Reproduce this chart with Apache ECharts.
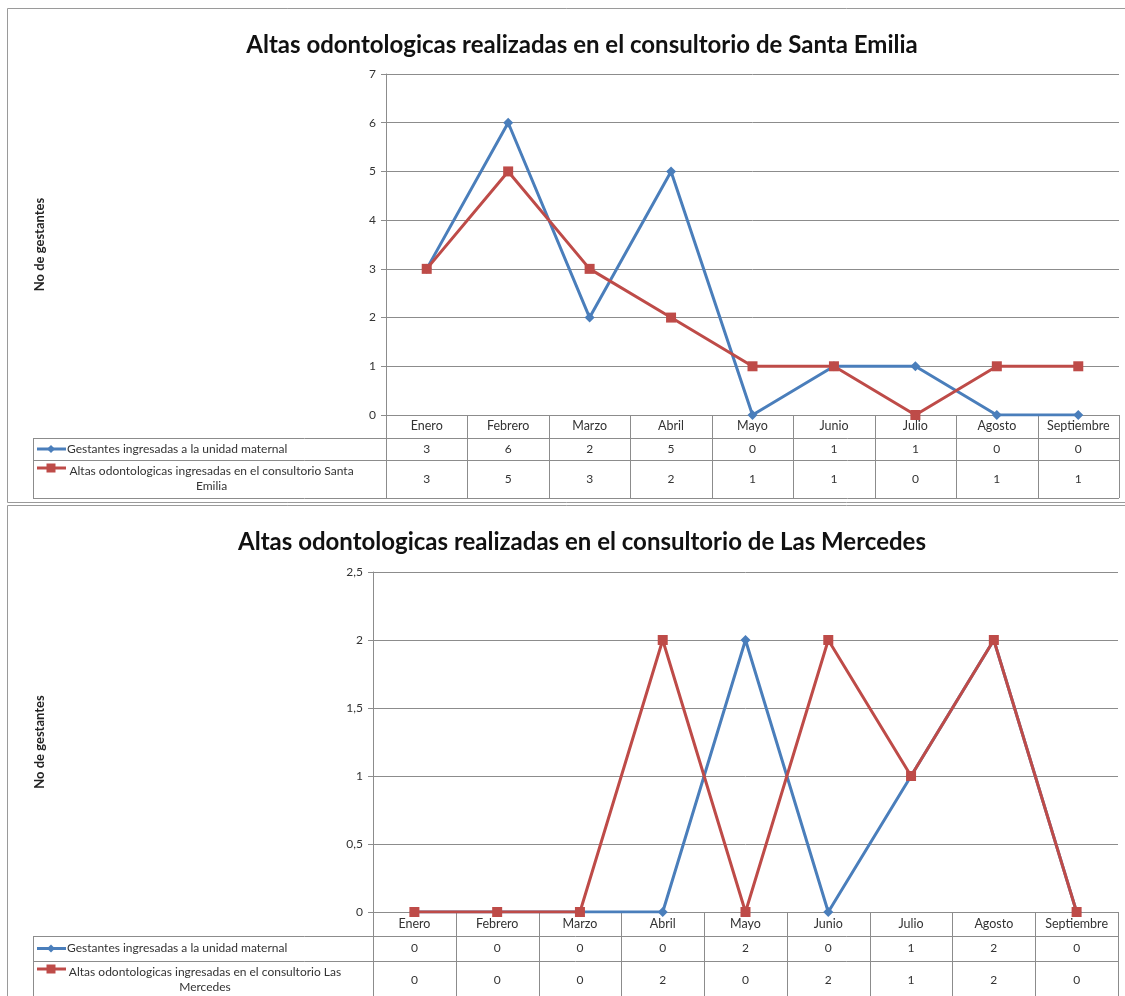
<!DOCTYPE html>
<html><head><meta charset="utf-8">
<script src="https://cdn.jsdelivr.net/npm/echarts@6/dist/echarts.min.js"></script>
<style>html,body{margin:0;padding:0;background:#fff}#c{width:1125px;height:996px}</style>
</head><body><div id="c"></div>
<script>
// ---- data ----
const months = ['Enero','Febrero','Marzo','Abril','Mayo','Junio','Julio','Agosto','Septiembre'];
const titleSantaEmilia = 'Altas odontologicas realizadas en el consultorio de Santa Emilia';
const titleLasMercedes = 'Altas odontologicas realizadas en el consultorio de Las Mercedes';
const yAxisName = 'No de gestantes';
const nameGestantes = 'Gestantes ingresadas a la unidad maternal';
const nameAltasSE = 'Altas odontologicas ingresadas en el consultorio Santa\nEmilia';
const nameAltasLM = 'Altas odontologicas ingresadas en el consultorio Las\nMercedes';
const gestantesSE = [3,6,2,5,0,1,1,0,0];
const altasSE = [3,5,3,2,1,1,0,1,1];
const gestantesLM = [0,0,0,0,2,0,1,2,0];
const altasLM = [0,0,0,2,0,2,1,2,0];
const yTicksSE = [0,1,2,3,4,5,6,7];
const yTicksLM = [0,0.5,1,1.5,2,2.5];

// ---- style ----
const BLUE = '#4a7ebb', RED = '#be4b48', GRID = '#8c8c8c', TXT = '#333', FONT = 'Lato';

const chart = echarts.init(document.getElementById('c'));

function yAxis(gi, ticks, fmt, gap) {
  return {
    type: 'value', gridIndex: gi,
    min: ticks[0], max: ticks[ticks.length-1], interval: ticks[1]-ticks[0],
    name: yAxisName, nameLocation: 'middle', nameGap: gap, nameRotate: 90,
    nameTextStyle: {fontFamily: FONT, fontWeight: 'bold', fontSize: 13, color: '#222'},
    axisLine: {show: true, lineStyle: {color: GRID}},
    axisTick: {show: true, length: 5, lineStyle: {color: GRID}},
    axisLabel: {fontFamily: FONT, fontSize: 12, color: TXT, margin: 10, formatter: fmt},
    splitLine: {show: true, lineStyle: {color: GRID, width: 1}}
  };
}
function xAxis(gi, margin) {
  return {
    type: 'category', gridIndex: gi, data: months, boundaryGap: true,
    axisLine: {show: true, lineStyle: {color: GRID}},
    axisTick: {show: false},
    axisLabel: {fontFamily: FONT, fontSize: 12.5, color: TXT, margin: margin, interval: 0}
  };
}
function lineSeries(name, data, xi, color, symbol, size) {
  return {
    type: 'line', name: name, data: data, xAxisIndex: xi, yAxisIndex: xi,
    symbol: symbol, symbolSize: size, showSymbol: true,
    lineStyle: {color: color, width: 3}, itemStyle: {color: color},
    animation: false
  };
}

chart.setOption({
  backgroundColor: '#fff',
  animation: false,
  title: [
    {text: titleSantaEmilia, left: 577, top: 28, textAlign: 'center',
     textStyle: {fontFamily: FONT, fontWeight: 'bold', fontSize: 24, color: '#111'}},
    {text: titleLasMercedes, left: 577, top: 525, textAlign: 'center',
     textStyle: {fontFamily: FONT, fontWeight: 'bold', fontSize: 24, color: '#111'}}
  ],
  grid: [
    {left: 386, top: 74, width: 733, height: 341, containLabel: false},
    {left: 373, top: 572, width: 745, height: 340, containLabel: false}
  ],
  xAxis: [xAxis(0, 4), xAxis(1, 5)],
  yAxis: [
    yAxis(0, yTicksSE, v => String(v), 340),
    yAxis(1, yTicksLM, v => String(v).replace('.', ','), 327)
  ],
  series: [
    lineSeries(nameGestantes, gestantesSE, 0, BLUE, 'diamond', 10),
    lineSeries(nameAltasSE, altasSE, 0, RED, 'rect', 10),
    lineSeries(nameGestantes, gestantesLM, 1, BLUE, 'diamond', 10),
    lineSeries(nameAltasLM, altasLM, 1, RED, 'rect', 10)
  ]
});

// ---- data tables under each plot ----
function px(v) { return Math.round(v) + 0.5; }
function hline(x1, x2, y) { return {type: 'line', shape: {x1: x1, y1: px(y), x2: x2, y2: px(y)}, style: {stroke: GRID, lineWidth: 1}, silent: true}; }
function vline(x, y1, y2) { return {type: 'line', shape: {x1: px(x), y1: y1, x2: px(x), y2: y2}, style: {stroke: GRID, lineWidth: 1}, silent: true}; }
function txt(x, y, s, align) {
  return {type: 'text', x: x, y: y, silent: true,
    style: {text: s, font: '12px ' + FONT, fill: TXT, textAlign: align || 'center', textVerticalAlign: 'middle', lineHeight: 15}};
}
function key(cx, cy, color, kind) {
  const els = [{type: 'line', shape: {x1: 37, y1: cy, x2: 66, y2: cy}, style: {stroke: color, lineWidth: 3}, silent: true}];
  if (kind === 'diamond') {
    els.push({type: 'polygon', shape: {points: [[cx, cy-4],[cx+4, cy],[cx, cy+4],[cx-4, cy]]}, style: {fill: color}, silent: true});
  } else {
    els.push({type: 'rect', shape: {x: cx-4.5, y: cy-4.5, width: 9, height: 9}, style: {fill: color}, silent: true});
  }
  return els;
}
function table(xi, rowsOffsets, names, values) {
  const c0 = chart.convertToPixel({xAxisIndex: xi}, 0);
  const c1 = chart.convertToPixel({xAxisIndex: xi}, 1);
  const step = c1 - c0;
  const left = c0 - step / 2;
  const right = left + step * months.length;
  const y0 = chart.convertToPixel({yAxisIndex: xi}, 0);
  const r1 = y0 + rowsOffsets[0], r2 = y0 + rowsOffsets[1], r3 = y0 + rowsOffsets[2];
  const tl = 33;
  const els = [];
  els.push(hline(tl, right, r1), hline(tl, right, r2), hline(tl, right, r3));
  els.push(vline(tl, r1, r3));
  for (let i = 0; i <= months.length; i++) els.push(vline(left + step * i, y0, r3));
  els.push(...key(51, (r1 + r2) / 2, BLUE, 'diamond'));
  els.push(txt(67, (r1 + r2) / 2, names[0], 'left'));
  els.push(...key(51, r2 + 8, RED, 'rect'));
  els.push(txt((tl + left) / 2 + 2, (r2 + r3) / 2, names[1], 'center'));
  for (let i = 0; i < months.length; i++) {
    const cx = c0 + step * i;
    els.push(txt(cx, (r1 + r2) / 2, String(values[0][i])));
    els.push(txt(cx, (r2 + r3) / 2, String(values[1][i])));
  }
  return els;
}

const frames = [
  {type: 'rect', shape: {x: 7.5, y: 8.5, width: 1130, height: 494}, style: {fill: 'none', stroke: '#9a9a9a', lineWidth: 1}, silent: true, z: -10},
  {type: 'rect', shape: {x: 7.5, y: 505.5, width: 1130, height: 500}, style: {fill: 'none', stroke: '#9a9a9a', lineWidth: 1}, silent: true, z: -10}
];

chart.setOption({
  graphic: frames
    .concat(table(0, [23, 45, 83], [nameGestantes, nameAltasSE], [gestantesSE, altasSE]))
    .concat(table(1, [24, 49, 87], [nameGestantes, nameAltasLM], [gestantesLM, altasLM]))
});
</script>
</body></html>
